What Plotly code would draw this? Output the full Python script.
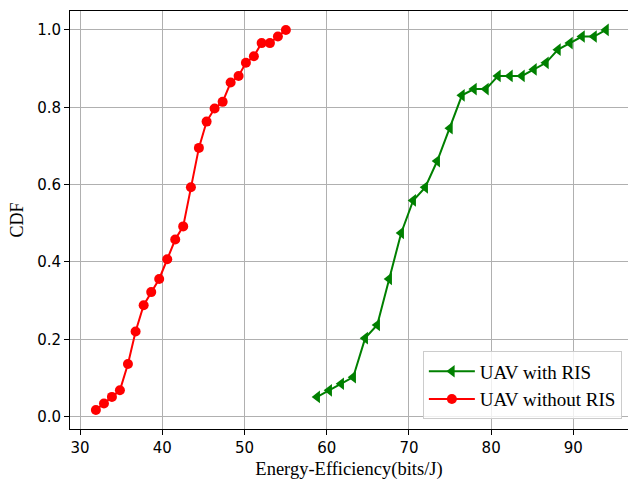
import plotly.graph_objects as go

# Data
ee_with_ris = [58.84, 60.30, 61.76, 63.22, 64.68, 66.14, 67.60, 69.06, 70.52, 71.98,
               73.44, 74.99, 76.45, 77.91, 79.37, 80.83, 82.29, 83.75, 85.21, 86.67,
               88.13, 89.59, 91.05, 92.51, 93.97]
cdf_with_ris = [0.051, 0.068, 0.085, 0.102, 0.203, 0.237, 0.356, 0.475, 0.559, 0.593,
                0.661, 0.746, 0.831, 0.847, 0.847, 0.881, 0.881, 0.881, 0.898, 0.915,
                0.949, 0.966, 0.983, 0.983, 1.000]

ee_without_ris = [31.92, 32.90, 33.87, 34.84, 35.82, 36.75, 37.73, 38.65, 39.62, 40.60,
                  41.57, 42.54, 43.48, 44.45, 45.39, 46.36, 47.34, 48.31, 49.28, 50.17,
                  51.14, 52.08, 53.09, 54.06, 55.03]
cdf_without_ris = [0.017, 0.034, 0.051, 0.068, 0.136, 0.220, 0.288, 0.322, 0.356, 0.407,
                   0.458, 0.492, 0.593, 0.695, 0.763, 0.797, 0.814, 0.864, 0.881, 0.915,
                   0.932, 0.966, 0.966, 0.983, 1.000]

x_ticks = [30, 40, 50, 60, 70, 80, 90]
y_ticks = [0.0, 0.2, 0.4, 0.6, 0.8, 1.0]

serif = "Liberation Serif, Times New Roman, serif"
sans = "DejaVu Sans, sans-serif"

fig = go.Figure()
fig.add_trace(go.Scatter(
    x=ee_with_ris, y=cdf_with_ris, mode="lines+markers", name="UAV with RIS",
    line=dict(color="green", width=2),
    marker=dict(symbol="triangle-left", size=11, color="green"),
))
fig.add_trace(go.Scatter(
    x=ee_without_ris, y=cdf_without_ris, mode="lines+markers", name="UAV without RIS",
    line=dict(color="red", width=2),
    marker=dict(symbol="circle", size=10, color="red"),
))

fig.update_layout(
    width=628, height=480,
    margin=dict(l=70, r=0, t=11, b=51),
    paper_bgcolor="white", plot_bgcolor="white",
    showlegend=True,
    legend=dict(
        x=0.989, y=0.023, xanchor="right", yanchor="bottom",
        bgcolor="rgba(255,255,255,0.8)", bordercolor="#cccccc", borderwidth=1,
        font=dict(family=serif, size=19, color="black"),
        itemwidth=46,
    ),
)
fig.update_xaxes(
    range=[28.77, 96.65], tickvals=x_ticks, ticktext=[str(v) for v in x_ticks],
    showgrid=True, gridcolor="#b0b0b0", gridwidth=1,
    showline=True, linecolor="black", linewidth=1, mirror=True,
    ticks="outside", ticklen=5, tickcolor="black", tickwidth=1,
    tickfont=dict(family=sans, size=15, color="black"),
    zeroline=False,
    title=dict(text="Energy-Efficiency(bits/J)", font=dict(family=serif, size=18.5, color="black"), standoff=8),
)
fig.update_yaxes(
    range=[-0.032, 1.049], tickvals=y_ticks, ticktext=[f"{v:.1f}" for v in y_ticks],
    showgrid=True, gridcolor="#b0b0b0", gridwidth=1,
    showline=True, linecolor="black", linewidth=1, mirror=False,
    ticks="outside", ticklen=5, tickcolor="black", tickwidth=1,
    tickfont=dict(family=sans, size=15, color="black"),
    zeroline=False,
    title=dict(text="CDF", font=dict(family=serif, size=18, color="black"), standoff=8),
)

fig.write_html("out.html")
